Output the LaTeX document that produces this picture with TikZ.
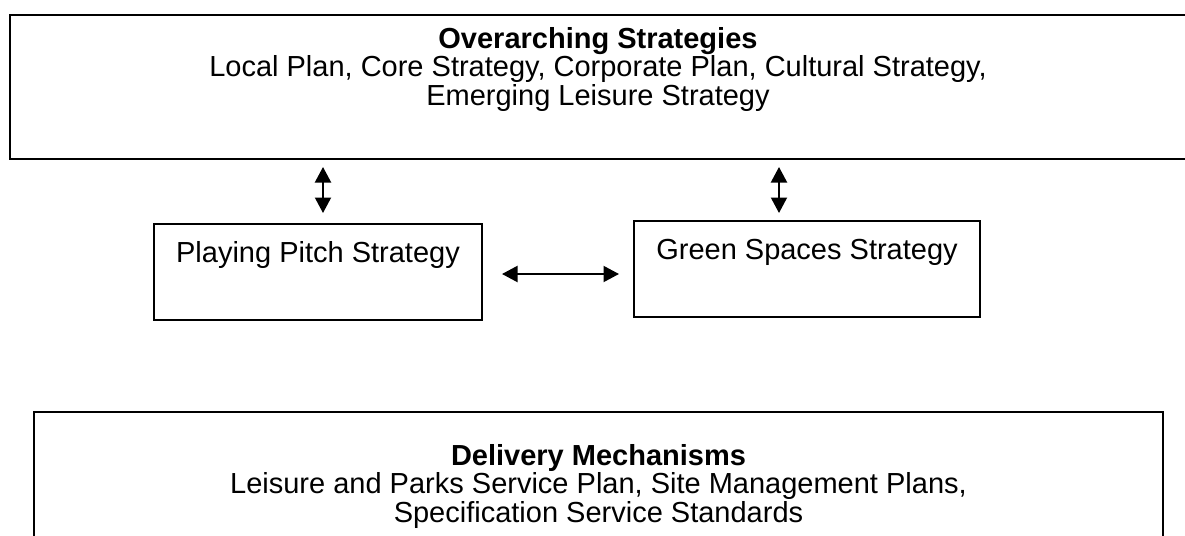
\documentclass[tikz,border=0pt]{standalone}
\usepackage{fontspec}
\setmainfont{Liberation Sans}
\usetikzlibrary{arrows.meta}
\begin{document}
\begin{tikzpicture}[x=0.5pt,y=-0.5pt,
        box/.style={draw,line width=1pt,inner sep=0pt,rectangle},
        txt/.style={align=center,inner sep=0pt,font=\fontsize{14.5pt}{14.25pt}\selectfont},
        link/.style={line width=1pt,{Triangle[length=7.75pt,width=8pt]}-{Triangle[length=7.75pt,width=8pt]}}]
        \useasboundingbox (0,0) rectangle (1185,536);
        %% overarching strategies
        \node[box,anchor=north west,minimum width=588pt,minimum height=72pt] (ovs) at (9,14) {};
        \node[txt,anchor=north] (ovstxt) at ([yshift=-6.5pt]ovs.north)
            {\textbf{Overarching Strategies}\\Local Plan, Core Strategy, Corporate Plan, Cultural Strategy,\\Emerging Leisure Strategy};
        %% the two strategies
        \node[box,font=\fontsize{14.5pt}{14.25pt}\selectfont,anchor=north west,minimum width=164pt,text height=19pt,text depth=29pt] (pps) at (153,223) {Playing Pitch Strategy};
        \node[box,font=\fontsize{14.5pt}{14.25pt}\selectfont,anchor=north west,minimum width=173pt,text height=19pt,text depth=29pt] (gss) at (633,220) {Green Spaces Strategy};
        %% delivery mechanisms
        \node[box,anchor=north west,minimum width=564.5pt,minimum height=80pt] (dlm) at (33,411) {};
        \node[txt,anchor=north] (dlmtxt) at ([yshift=-16.5pt]dlm.north)
            {\textbf{Delivery Mechanisms}\\Leisure and Parks Service Plan, Site Management Plans,\\Specification Service Standards};
        %% connect
        \coordinate (ppstop) at ([xshift=2.5pt]pps.north);
        \coordinate (gsstop) at ([xshift=-14pt]gss.north);
        \coordinate (ppsside) at ([yshift=-1pt]pps.east);
        \draw[link,shorten <=3.5pt,shorten >=5pt] (ppstop |- ovs.south) -- (ppstop);
        \draw[link,shorten <=3.5pt,shorten >=3.5pt] (gsstop |- ovs.south) -- (gsstop);
        \draw[link,shorten <=9.5pt,shorten >=7pt] (ppsside) -- (ppsside -| gss.west);
    \end{tikzpicture}
\end{document}
